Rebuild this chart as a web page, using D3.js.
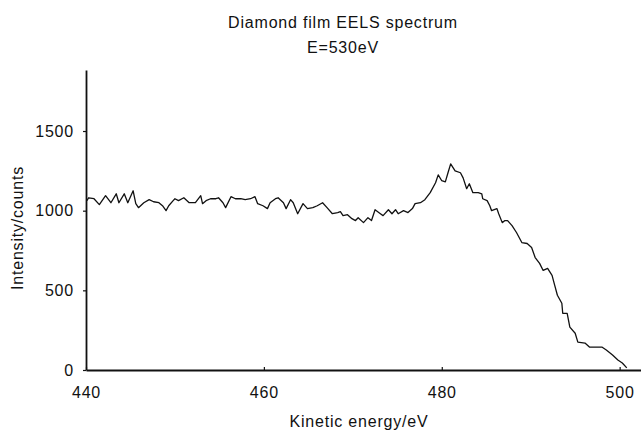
<!DOCTYPE html>
<html>
<head>
<meta charset="utf-8">
<script src="https://cdn.jsdelivr.net/npm/d3@7"></script>
<style>
  html, body { margin: 0; padding: 0; background: #fff; }
  svg { display: block; }
  text { font-family: "Liberation Sans", Arial, sans-serif; fill: #111; letter-spacing: 0.8px; }
</style>
</head>
<body>
<div id="chart"></div>
<script>
// kinetic energy (eV)
const energy = [
  440.1, 440.3, 440.9, 441.5, 442.2, 442.8, 443.4, 443.7, 444.3, 444.7,
  445.3, 445.6, 445.9, 446.5, 447.1, 447.6, 448.2, 448.6, 449.0, 449.3,
  449.8, 450.0, 450.4, 451.0, 451.6, 452.3, 452.9, 453.1, 453.5, 454.0,
  454.6, 454.9, 455.4, 455.7, 456.3, 456.8, 457.4, 457.9, 458.5, 459.0,
  459.3, 459.9, 460.4, 460.7, 461.3, 461.6, 462.2, 462.5, 463.0, 463.3,
  463.8, 464.4, 464.9, 465.5, 466.0, 466.6, 467.1, 467.7, 468.3, 468.6,
  468.9, 469.4, 469.9, 470.3, 470.6, 471.2, 471.7, 472.1, 472.5, 473.1,
  473.4, 474.0, 474.4, 474.8, 475.1, 475.7, 476.2, 476.7, 477.0, 477.6,
  478.1, 478.7, 479.3, 479.6, 480.0, 480.4, 480.7, 481.0, 481.5, 482.1,
  482.4, 482.8, 483.1, 483.5, 484.1, 484.5, 484.6, 485.1, 485.4, 485.6,
  486.2, 486.4, 486.8, 487.1, 487.4, 487.9, 488.4, 489.0, 489.6, 490.1,
  490.5, 491.0, 491.4, 491.9, 492.4, 492.7, 493.0, 493.5, 493.6, 494.1,
  494.4, 495.0, 495.3, 496.1, 496.6, 497.4, 498.0, 498.5, 499.2, 499.8,
  500.3, 500.8
];

// intensity (counts)
const counts = [
  1063, 1081, 1075, 1038, 1094, 1050, 1106, 1050, 1106, 1050,
  1125, 1044, 1019, 1050, 1069, 1056, 1050, 1031, 1000, 1031,
  1063, 1075, 1063, 1081, 1050, 1050, 1094, 1044, 1063, 1075,
  1075, 1081, 1050, 1019, 1088, 1075, 1075, 1069, 1075, 1088,
  1044, 1031, 1013, 1050, 1075, 1081, 1050, 1013, 1069, 1050,
  981, 1044, 1013, 1019, 1031, 1050, 1019, 981, 988, 994,
  969, 975, 950, 938, 956, 925, 956, 938, 1006, 981,
  969, 1006, 981, 1006, 981, 1000, 988, 1013, 1044, 1050,
  1069, 1113, 1175, 1225, 1188, 1181, 1238, 1294, 1250, 1238,
  1206, 1138, 1169, 1113, 1113, 1106, 1075, 1063, 1031, 1000,
  1013, 981, 925, 938, 938, 906, 863, 800, 794, 769,
  706, 669, 625, 638, 594, 531, 469, 419, 356, 356,
  269, 231, 175, 169, 144, 144, 144, 125, 94, 63,
  44, 13
];

const xTicks = [440, 460, 480, 500];
const yTicks = [0, 500, 1000, 1500];

const titleLines = ['Diamond film EELS spectrum', 'E=530eV'];
const xLabel = 'Kinetic energy/eV';
const yLabel = 'Intensity/counts';

const width = 641, height = 433;

const svg = d3.select('#chart').append('svg')
  .attr('width', width)
  .attr('height', height);

const x = d3.scaleLinear().domain([440, 502.4]).range([86, 641]);
const y = d3.scaleLinear().domain([0, 1883]).range([370, 70]);

const points = energy.map((e, i) => ({ e, c: counts[i] }));

// axes
const xAxis = svg.append('g')
  .attr('transform', `translate(0,${y(0)})`)
  .call(d3.axisBottom(x).tickValues(xTicks).tickFormat(d3.format('d'))
    .tickSizeInner(-3).tickSizeOuter(0).tickPadding(17));

const yAxis = svg.append('g')
  .attr('transform', `translate(${x(440)},0)`)
  .call(d3.axisLeft(y).tickValues(yTicks).tickFormat(d3.format('d'))
    .tickSizeInner(3).tickSizeOuter(0).tickPadding(9));

[xAxis, yAxis].forEach(g => {
  g.select('.domain').attr('stroke', '#111').attr('stroke-width', 1.8);
  g.selectAll('.tick line').attr('stroke', '#111').attr('stroke-width', 1.2);
  g.selectAll('.tick text')
    .attr('fill', '#111')
    .style('font-size', '16px')
    .style('font-family', '"Liberation Sans", Arial, sans-serif');
});

// spectrum
const line = d3.line()
  .x(d => x(d.e))
  .y(d => y(d.c));

svg.append('path')
  .datum(points)
  .attr('fill', 'none')
  .attr('stroke', '#111')
  .attr('stroke-width', 1.3)
  .attr('stroke-linejoin', 'round')
  .attr('d', line);

// titles
svg.append('g').selectAll('text')
  .data(titleLines)
  .join('text')
  .attr('x', 343)
  .attr('y', (d, i) => 28 + i * 25)
  .attr('text-anchor', 'middle')
  .style('font-size', '16px')
  .text(d => d);

svg.append('text')
  .attr('x', 359)
  .attr('y', 427)
  .attr('text-anchor', 'middle')
  .style('font-size', '16px')
  .text(xLabel);

svg.append('text')
  .attr('transform', 'translate(23,228) rotate(-90)')
  .attr('text-anchor', 'middle')
  .style('font-size', '16px')
  .text(yLabel);
</script>
</body>
</html>
